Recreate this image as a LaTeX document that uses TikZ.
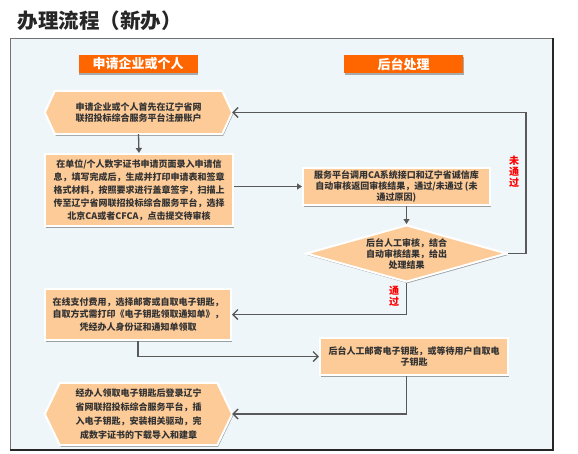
\documentclass[tikz,border=0pt]{standalone}
\usepackage{fontspec}
\newfontfamily\cjk{Noto Sans CJK SC}
\usetikzlibrary{arrows.meta,shapes.geometric,shadows}
\pgfdeclarelayer{bg}\pgfdeclarelayer{mid}
\pgfsetlayers{bg,mid,main}
\definecolor{peach}{HTML}{FDCB98}
\definecolor{hdr}{HTML}{FF6600}
\definecolor{panel}{HTML}{EFF6F9}
\definecolor{conncol}{HTML}{595959}
\definecolor{txt}{HTML}{333333}
\tikzset{
 shad/.style={drop shadow={shadow xshift=1pt,shadow yshift=-1.6pt,opacity=0.35,fill=black}},
 boxtext/.style={font=\cjk\bfseries\fontsize{9}{#1}\selectfont, text=txt, align=center},
 box/.style={shape=rectangle, fill=peach, draw=white, line width=2pt, shad, inner sep=0pt, boxtext=11.5},
 hexnode/.style={shape=rectangle, inner sep=0pt, boxtext=11.5},
 hexfill/.style={fill=peach, draw=white, line width=2pt, shad},
 dmnode/.style={shape=diamond, fill=peach, draw=white, line width=2pt, shad, inner sep=0pt, minimum width=201pt, minimum height=57pt},
 header/.style={shape=rectangle, fill=hdr, text=white, inner sep=0pt, minimum width=119pt, minimum height=18pt, font=\cjk\bfseries\fontsize{13}{15}\selectfont, drop shadow={shadow xshift=0.5pt,shadow yshift=-1.8pt,opacity=0.3,fill=black}},
 conn/.style={draw=conncol, line width=1.3pt},
 openarr/.style={conn, -{Straight Barb[length=5pt,width=10pt,line width=1.3pt]}},
 fillarr/.style={conn, -{Triangle[length=5pt,width=6pt]}},
 redlab/.style={font=\cjk\bfseries\fontsize{10}{11}\selectfont, text=red, align=center},
}
\newcommand\hexoutline[2]{%
 \begin{pgfonlayer}{mid}
 \path[hexfill] (#1.west) -- ([xshift=#2]#1.north west) -- ([xshift=-#2]#1.north east) -- (#1.east) -- ([xshift=-#2]#1.south east) -- ([xshift=#2]#1.south west) -- cycle;
 \end{pgfonlayer}}
\begin{document}
\begin{tikzpicture}[x=1pt,y=-1pt]
\useasboundingbox (0,0) rectangle (578,453);
\begin{pgfonlayer}{bg}
\fill[panel] (10,38) rectangle (553,450);
\draw[black!55, line width=0.8pt] (10,450) -- (10,38) -- (553,38);
\draw[black!85, line width=1.6pt] (553,38) -- (553,450) -- (10,450);
\end{pgfonlayer}

\node[anchor=west, font=\cjk\bfseries\fontsize{20.5}{24}\selectfont, text=black!85] (title) at (14,21) {办理流程（新办）};

\node[header] (h1) at (138,64) {申请企业或个人};
\node[header] (h2) at (403.5,64) {后台处理};

\node[hexnode, minimum width=187pt, minimum height=43pt] (b1) at (138.5,112.5) {申请企业或个人首先在辽宁省网\\联招投标综合服务平台注册账户};
\hexoutline{b1}{10pt}

\node[box, minimum width=188pt, minimum height=72pt, boxtext=13] (b2) at (139,190) {在单位/个人数字证书申请页面录入申请信\\息，填写完成后，生成并打印申请表和签章\\格式材料，按照要求进行盖章签字，扫描上\\传至辽宁省网联招投标综合服务平台，选择\\北京CA或者CFCA，点击提交待审核};

\node[box, minimum width=187pt, minimum height=37pt, boxtext=11] (b3) at (396.5,186.5) {服务平台调用CA系统接口和辽宁省诚信库\\自动审核返回审核结果，通过/未通过 (未\\通过原因)};

\node[dmnode] (dm) at (406.5,253.5) {};
\node[boxtext=11] (dmt) at (dm.center) {后台人工审核，结合\\自动审核结果，给出\\处理结果};

\node[box, minimum width=186pt, minimum height=51pt, boxtext=12.5] (b4) at (138,314.5) {在线支付费用，选择邮寄或自取电子钥匙，\\自取方式需打印《电子钥匙领取通知单》，\\凭经办人身份证和通知单领取};

\node[box, minimum width=188pt, minimum height=37pt, boxtext=11] (b5) at (414,356.5) {后台人工邮寄电子钥匙，或等待用户自取电\\子钥匙};

\node[hexnode, minimum width=187pt, minimum height=62pt, boxtext=14] (b6) at (138.5,414) {经办人领取电子钥匙后登录辽宁\\省网联招投标综合服务平台，插\\入电子钥匙，安装相关驱动，完\\成数字证书的下载导入和建章};
\hexoutline{b6}{15pt}

\coordinate (r1) at (526,112.5);
\draw[fillarr] (b1.south) -- (b2.north);
\draw[fillarr] (b3.west -| b2.east) -- (b3.west);
\draw[fillarr] (dm.north |- b3.south) -- (dm.north);
\draw[openarr] (dm.east) -| (r1) -- (b1.east);
\draw[openarr] (dm.south) |- (b4.east);
\draw[openarr] (b4.south) |- (b5.west);
\draw[openarr] (dm.south |- b5.south) |- (b6.east);

\node[redlab] (l1) at (514,172) {未\\通\\过};
\node[redlab] (l2) at (394,296) {通\\过};
\end{tikzpicture}
\end{document}
